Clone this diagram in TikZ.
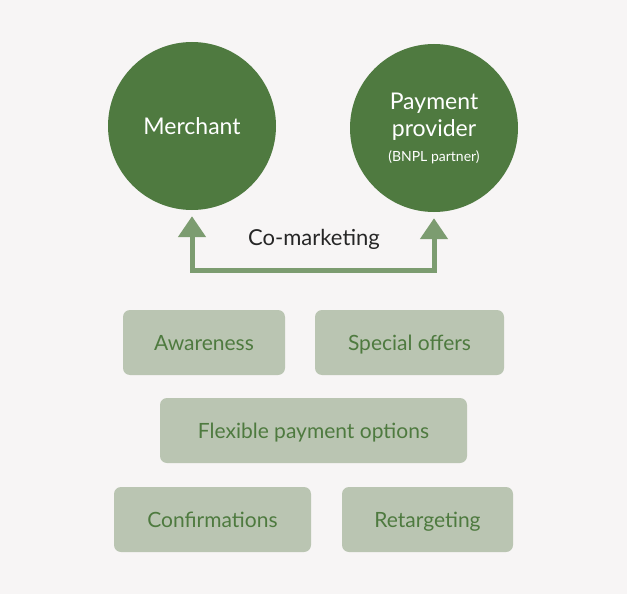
\documentclass[tikz,border=0pt]{standalone}
\usepackage{fontspec}
\setmainfont{Lato}
\usetikzlibrary{arrows.meta}
\definecolor{bg}{HTML}{F7F5F5}
\definecolor{dg}{HTML}{4F7A40}
\definecolor{lg}{HTML}{BAC5B2}
\definecolor{ag}{HTML}{7C9C70}
\definecolor{tx}{HTML}{4E7A3F}
\begin{document}
\begin{tikzpicture}[x=1pt,y=-1pt,
  circ/.style={circle,fill=dg,minimum size=168pt,inner sep=0pt,text=white,font=\fontsize{23}{28}\selectfont,align=center},
  box/.style={rounded corners=7pt,fill=lg,text=tx,font=\fontsize{21}{24}\selectfont,minimum height=65pt,inner sep=0pt,text height=18pt,text depth=2pt},
  arr/.style={draw=ag,line width=5pt,-{Triangle[width=27pt,length=21pt]}}]
\fill[bg] (0,0) rectangle (627,594);
\node[circ] (m) at (192,126) {Merchant};
\node[circ] (p) at (434,128) {Payment\\[-1pt]provider\\[-3pt]{\fontsize{14}{16}\selectfont (BNPL partner)}};
\coordinate (c) at (313,270);
\node[font=\fontsize{22}{24}\selectfont,text=black!85] (cm) at (314,239) {Co-marketing};
\draw[arr] (c) -| ([yshift=-6pt]m.south);
\draw[arr] (c) -| ([yshift=-6pt]p.south);
\node[box,minimum width=162pt] (a) at (204,342.5) {Awareness};
\node[box,minimum width=189pt] (s) at (409.5,342.5) {Special offers};
\node[box,minimum width=307pt] (f) at (313.5,430.5) {Flexible payment options};
\node[box,minimum width=197pt] (co) at (212.5,519.5) {Confirmations};
\node[box,minimum width=171pt] (r) at (427.5,519.5) {Retargeting};
\end{tikzpicture}
\end{document}
